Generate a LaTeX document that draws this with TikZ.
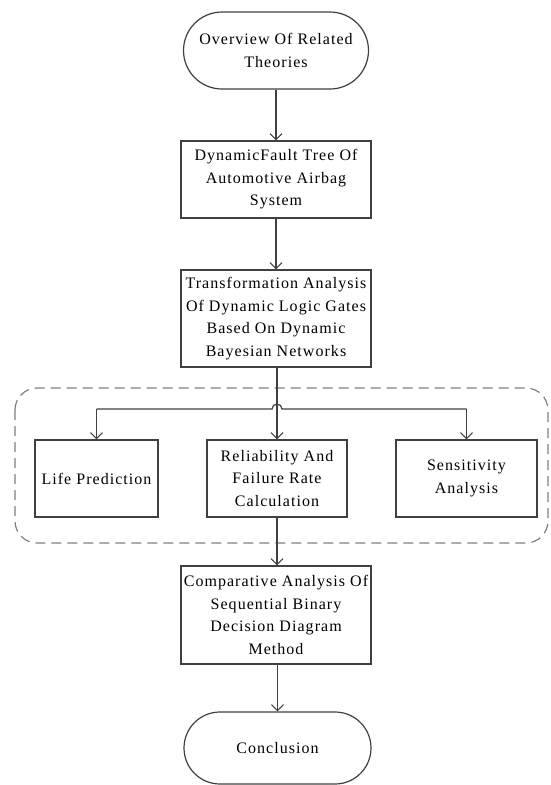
\documentclass[tikz,border=0pt]{standalone}
\usepackage{fontspec}
\setmainfont{Liberation Serif}[LetterSpace=6.5]
\usetikzlibrary{arrows.meta,shapes.misc}
\definecolor{linec}{HTML}{404040}
\definecolor{dashc}{HTML}{808080}
\begin{document}
\begin{tikzpicture}[x=1pt,y=-1pt,
  base/.style={draw=linec,line width=1.2pt,fill=white,align=center,inner sep=2pt,
    font=\fontsize{16}{22.5}\selectfont,text=black},
  boxnode/.style={base,rectangle},
  termnode/.style={base,rounded rectangle},
  conn/.style={draw=linec,line width=1.2pt,-{Straight Barb[length=6pt,width=12pt,line width=1.1pt]}},
  plainconn/.style={draw=linec,line width=1.2pt}]
\useasboundingbox (0,0) rectangle (550,785);
% dashed group
\draw[dashc,line width=1.2pt,dash pattern=on 10pt off 6pt,rounded corners=22pt] (15,388) rectangle (548,543);
% nodes
\node[termnode,minimum width=189pt,minimum height=77pt] (t1) at (276,50.5) {Overview Of Related\\Theories};
\node[boxnode,minimum width=190pt,minimum height=77pt] (b2) at (276,179.5) {DynamicFault Tree Of\\Automotive Airbag\\System};
\node[boxnode,minimum width=190pt,minimum height=97pt] (b3) at (276,318.5) {Transformation Analysis\\Of Dynamic Logic Gates\\Based On Dynamic\\Bayesian Networks};
\node[boxnode,minimum width=123pt,minimum height=77pt] (lp) at (96.5,478.5) {Life Prediction};
\node[boxnode,minimum width=140pt,minimum height=77pt] (rf) at (277,478.5) {Reliability And\\Failure Rate\\Calculation};
\node[boxnode,minimum width=141pt,minimum height=77pt] (sa) at (466.5,478.5) {Sensitivity\\Analysis};
\node[boxnode,minimum width=190pt,minimum height=98pt] (ca) at (276,615) {Comparative Analysis Of\\Sequential Binary\\Decision Diagram\\Method};
\node[termnode,minimum width=191pt,minimum height=72pt] (cc) at (277.5,748) {Conclusion};
\coordinate (hl) at (lp.north |- 0,409);
\coordinate (hr) at (sa.north |- 0,409);
% connectors
\draw[conn] (t1.south -| b2.north) -- (b2.north);
\draw[conn] (b2) -- (b3);
\draw[conn] (b3.south -| rf.north) -- (rf.north);
\draw[plainconn] (hl) -- (272,409) arc[start angle=180,end angle=0,radius=5pt] -- (hr);
\draw[conn] (hl) -- (lp.north);
\draw[conn] (hr) -- (sa.north);
\draw[conn] (rf.south) -- (rf.south |- ca.north);
\draw[conn] (ca.south -| cc.north) -- (cc.north);
\end{tikzpicture}
\end{document}
